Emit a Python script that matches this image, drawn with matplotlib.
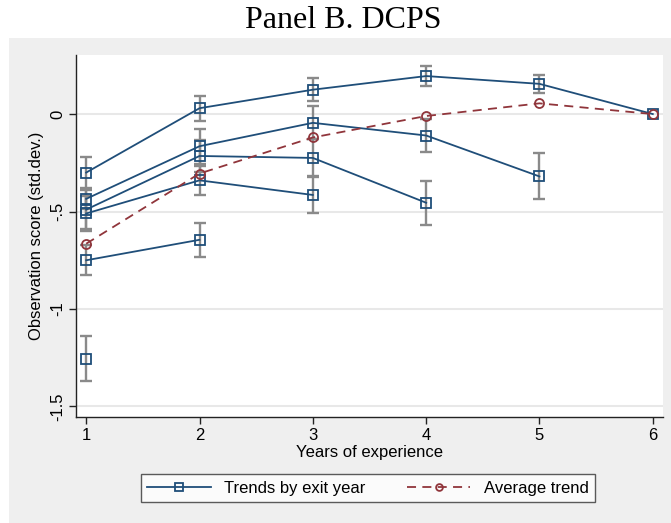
import matplotlib.pyplot as plt
from matplotlib.patches import Rectangle

# experience years and exit-year cohort trends (std.dev. units)
years = [1, 2, 3, 4, 5, 6]

trend_a = [-0.30, 0.03, 0.125, 0.195, 0.155, 0.0]
ci_a = [0.08, 0.065, 0.058, 0.05, 0.047, 0.0]
trend_b = [-0.435, -0.165, -0.045, -0.11, -0.32]
ci_b = [0.05, 0.09, 0.085, 0.085, 0.118]
trend_c = [-0.49, -0.215, -0.225, -0.455]
ci_c = [0.10, 0.08, 0.095, 0.113]
trend_d = [-0.51, -0.34, -0.415]
ci_d = [0.09, 0.075, 0.09]
trend_e = [-0.75, -0.645]
ci_e = [0.076, 0.086]
trend_f = [-1.255]
ci_f = [0.115]

avg_trend = [-0.665, -0.305, -0.12, -0.01, 0.055, 0.0]

y_ticks = [-1.5, -1, -0.5, 0]
y_tick_labels = ['-1.5', '-1', '-.5', '0']

BLUE = '#1f4e79'
RED = '#90353b'
GRAY = '#8a8a8a'
BG = '#efefef'

plt.rcParams['font.family'] = ['Liberation Sans', 'DejaVu Sans']

fig = plt.figure(figsize=(6.71, 5.23), dpi=100)
fig.patch.set_facecolor('white')
# gray graph region below the title
fig.patches.append(Rectangle((9 / 671, 0), 1, 1 - 38 / 523,
                             transform=fig.transFigure, facecolor=BG,
                             edgecolor='none', zorder=-10))

ax = fig.add_axes([76 / 671, 1 - 417 / 523, 587 / 671, 362 / 523])
ax.set_facecolor('white')

cohorts = [(trend_a, ci_a), (trend_b, ci_b), (trend_c, ci_c),
           (trend_d, ci_d), (trend_e, ci_e), (trend_f, ci_f)]

for vals, ci in cohorts:
    xs = years[:len(vals)]
    xe = [x for x, c in zip(xs, ci) if c > 0]
    ye = [v for v, c in zip(vals, ci) if c > 0]
    ce = [c for c in ci if c > 0]
    ax.errorbar(xe, ye, yerr=ce, fmt='none', ecolor=GRAY, elinewidth=1.7,
                capsize=4, capthick=1.7, zorder=2)

for i, (vals, ci) in enumerate(cohorts):
    ax.plot(years[:len(vals)], vals, color=BLUE, lw=1.3, marker='s',
            markersize=6.8, markerfacecolor='none', markeredgecolor=BLUE,
            markeredgewidth=1.3, zorder=3,
            label='Trends by exit year' if i == 0 else None)

ax.plot(years, avg_trend, color=RED, lw=1.3, ls=(0, (5, 3.5)), marker='o',
        markersize=6.5, markerfacecolor='none', markeredgecolor=RED,
        markeredgewidth=1.3, zorder=4, label='Average trend')

ax.set_xlim(0.91, 6.09)
ax.set_ylim(-1.554, 0.303)
ax.set_xticks(years)
ax.set_yticks(y_ticks)
ax.set_yticklabels(y_tick_labels, rotation=90, va='center')
ax.grid(axis='y', color='#e8e8e8', lw=1.5)
ax.set_axisbelow(True)

for side in ['top', 'right']:
    ax.spines[side].set_visible(False)
for side in ['left', 'bottom']:
    ax.spines[side].set_color('#222222')
    ax.spines[side].set_linewidth(1.0)
ax.tick_params(axis='both', direction='out', length=5, width=1.0,
               color='#222222', labelsize=12, pad=3)

ax.set_xlabel('Years of experience', fontsize=12, labelpad=1)
ax.set_ylabel('Observation score (std.dev.)', fontsize=12, labelpad=4)

fig.text(343 / 671, 1 - 21 / 523, 'Panel B. DCPS', ha='center', va='center',
         fontsize=23, family=['Liberation Serif', 'DejaVu Serif'])

leg = ax.legend(loc='center', bbox_to_anchor=(368 / 671, 1 - 488 / 523),
                bbox_transform=fig.transFigure, ncol=2, fontsize=12,
                frameon=True, fancybox=False, edgecolor='#333333',
                handlelength=3.8, columnspacing=2.5, borderpad=0.4,
                handletextpad=0.8, markerscale=0.75)
leg.get_frame().set_linewidth(1.0)

fig.savefig('out.png', dpi=100, facecolor=fig.get_facecolor())
